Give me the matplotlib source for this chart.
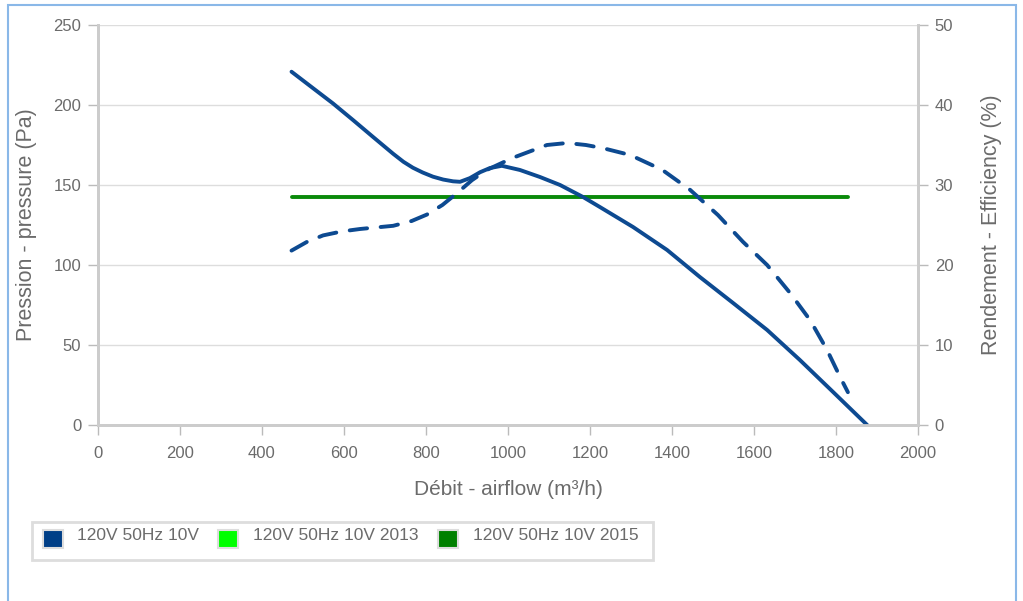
import matplotlib.pyplot as plt
from matplotlib.patches import Rectangle

# pressure curve (left axis, Pa)
flow_p = [472, 524, 573, 622, 671, 720, 745, 768, 792, 817, 842, 866, 883, 907, 932, 956, 985, 1029,
          1078, 1127, 1183, 1224, 1305, 1388, 1468, 1549, 1632, 1712, 1793, 1876]
pressure = [220.8, 210.6, 201, 190.6, 180, 169.5, 164.5, 160.8, 157.8, 155.2, 153.4, 152.3, 152.0, 154.3,
            158, 160.6, 162.0, 159.4, 155, 150, 142.5, 136.25, 123.75, 109.4, 92.5, 76.25, 59.4,
            40.6, 20.6, 0]

# efficiency curve (right axis, %)
flow_e = [472, 510, 549, 595, 639, 720, 765, 802, 840, 876, 912, 949, 1012, 1095, 1144, 1190, 1232,
          1298, 1376, 1444, 1512, 1573, 1632, 1688, 1737, 1778, 1810, 1829]
efficiency = [21.8, 22.9, 23.7, 24.2, 24.5, 24.9, 25.5, 26.3, 27.5, 29.0, 30.6, 31.9, 33.4, 35.0, 35.25,
              35.0, 34.6, 33.75, 31.9, 29.4, 26.25, 22.9, 20.0, 16.5, 13.1, 9.4, 6.0, 4.1]

# flat reference line (left axis)
flow_ref = [472, 1829]
pressure_ref = [142.7, 142.7]

legend_labels = ['120V 50Hz 10V', '120V 50Hz 10V 2013', '120V 50Hz 10V 2015']
legend_colors = ['#003f87', '#00ff00', '#008000']

blue = '#0d4a91'
green = '#0a8a0a'
grey_txt = '#6b6b6b'

plt.rcParams['font.family'] = ['Liberation Sans', 'DejaVu Sans']

fig = plt.figure(figsize=(10.23, 6.01), dpi=100)
ax = fig.add_axes([98/1023, 1-425/601, 820/1023, 400/601])
ax2 = ax.twinx()

ax.plot(flow_ref, pressure_ref, color=green, lw=2.8, solid_capstyle='round', zorder=3)
ax.plot(flow_p, pressure, color=blue, lw=2.8, solid_capstyle='round', solid_joinstyle='round', zorder=4)
ax2.plot(flow_e, efficiency, color=blue, lw=2.8, dashes=(4.5, 3.5), dash_capstyle='round',
         dash_joinstyle='round')

ax.set_xlim(0, 2000)
ax.set_ylim(0, 250)
ax2.set_ylim(0, 50)
ax.set_xticks(range(0, 2001, 200))
ax.set_yticks(range(0, 251, 50))
ax2.set_yticks(range(0, 51, 10))

ax.grid(axis='y', color='#dddddd', lw=1)
ax.set_axisbelow(True)

for a in (ax, ax2):
    a.spines['top'].set_visible(False)
    for s in ('left', 'right', 'bottom'):
        a.spines[s].set_color('#cccccc')
        a.spines[s].set_linewidth(2)
    a.tick_params(colors='#bbbbbb', labelcolor=grey_txt, labelsize=12, length=7, width=1)
ax.tick_params(axis='x', pad=8)
ax.tick_params(axis='y', pad=5)
ax2.tick_params(axis='y', pad=5)

ax.set_xlabel('Débit - airflow (m³/h)', color=grey_txt, fontsize=15, labelpad=14)
ax.set_ylabel('Pression - pressure (Pa)', color=grey_txt, fontsize=15.5, labelpad=12)
ax2.set_ylabel('Rendement - Efficiency (%)', color=grey_txt, fontsize=15.5, labelpad=20)

# legend box
fig.patches.append(Rectangle((32/1023, 1-560/601), 621/1023, 38/601, transform=fig.transFigure,
                             facecolor='white', edgecolor='#dddddd', lw=2))
item_x = [43, 218, 438]
text_x = [77, 253, 473]
for x0, tx, lab, col in zip(item_x, text_x, legend_labels, legend_colors):
    fig.patches.append(Rectangle((x0/1023, 1-548/601), 20/1023, 18/601, transform=fig.transFigure,
                                 facecolor=col, edgecolor='#dddddd', lw=1.5))
    fig.text(tx/1023, 1-535/601, lab, color=grey_txt, fontsize=12.5, va='center')

# outer frame
fig.patches.append(Rectangle((8/1023, -0.01), 1008/1023, 1-5/601+0.01, transform=fig.transFigure,
                             facecolor='none', edgecolor='#8ab8e8', lw=1.5))

fig.savefig('out.png', dpi=100)
